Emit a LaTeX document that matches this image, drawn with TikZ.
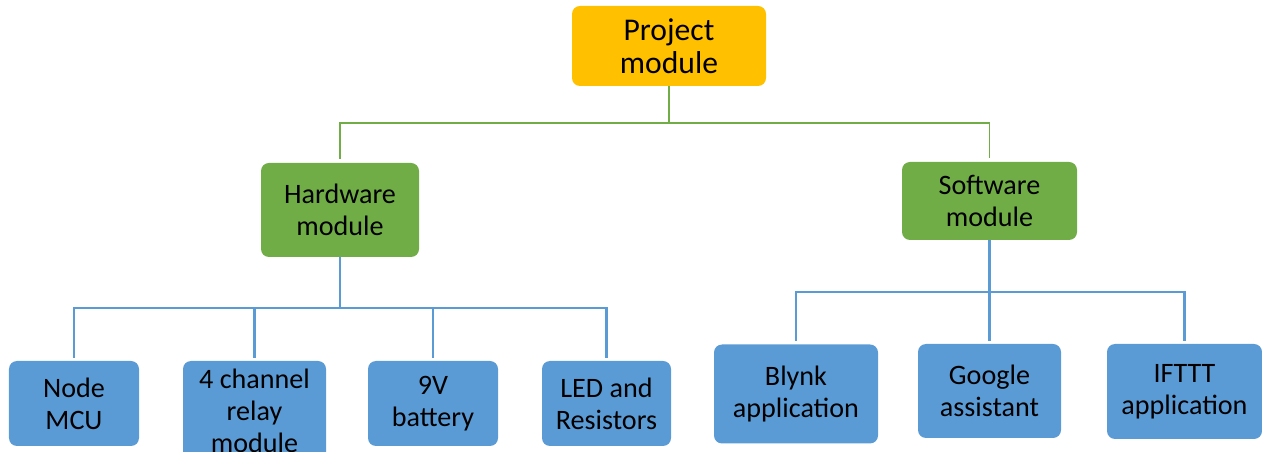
\documentclass[tikz,border=0pt]{standalone}
\usepackage{fontspec}
\setmainfont{Carlito}
\usetikzlibrary{calc, positioning}
\definecolor{gold}{HTML}{FFC000}
\definecolor{leaf}{HTML}{70AD47}
\definecolor{sky}{HTML}{5B9BD5}

\begin{document}
\begin{tikzpicture}[
    every node/.style={rectangle, rounded corners=0.16cm, align=center, inner sep=0pt, font=\fontsize{16}{18.2}\selectfont},
    topbox/.style={fill=gold, minimum width=3.88cm, minimum height=1.6cm, font=\fontsize{18}{19}\selectfont},
    midbox/.style={fill=leaf, minimum height=1.56cm},
    leafbox/.style={fill=sky, minimum height=1.7cm},
    greenline/.style={draw=leaf, line width=1.1pt, shorten >=0.07cm},
    blueline/.style={draw=sky, line width=1.3pt, shorten >=0.06cm}
]
\useasboundingbox (0,0) rectangle (25.24,9.04);
\clip (0,0) rectangle (25.24,9.04);

\node[topbox] (proj) at (13.38,8.12) {Project\\module};
\node[midbox, minimum width=3.16cm, minimum height=1.88cm] (hw) at (6.8,4.84) {Hardware\\module};
\node[midbox, minimum width=3.5cm] (sw) at (19.79,5.02) {Software\\module};

\node[leafbox, minimum width=2.6cm] (mcu) at (1.48,0.97) {Node\\MCU};
\node[leafbox, minimum width=2.86cm, minimum height=1.98cm] (relay) at (5.09,0.83) {4 channel\\relay\\module};
\node[leafbox, minimum width=2.6cm] (bat) at (8.66,0.97) {9V\\battery};
\node[leafbox, minimum width=2.58cm] (led) at (12.13,0.97) {LED and\\Resistors};

\node[leafbox, minimum width=3.28cm, minimum height=1.98cm] (blynk) at (15.92,1.16) {Blynk\\application};
\node[leafbox, minimum width=2.86cm, minimum height=1.88cm] (google) at (19.79,1.22) {Google\\assistant};
\node[leafbox, minimum width=3.1cm, minimum height=1.9cm] (ifttt) at (23.69,1.21) {IFTTT\\application};

\coordinate (pbus) at (13.38,6.58);
\coordinate (hbus) at (6.8,2.88);
\coordinate (sbus) at (19.79,3.2);

\draw[greenline, shorten >=0pt] (proj.south) -- (pbus);
\draw[greenline] (pbus) -| (hw.north);
\draw[greenline] (pbus) -| (sw.north);

\draw[blueline, shorten >=0pt] (hw.south) -- (hbus);
\draw[blueline] (hbus) -| (mcu.north);
\draw[blueline] (hbus) -| (relay.north);
\draw[blueline] (hbus) -| (bat.north);
\draw[blueline] (hbus) -| (led.north);

\draw[blueline, shorten >=0pt] (sw.south) -- (sbus);
\draw[blueline] (sbus) -| (blynk.north);
\draw[blueline] (sbus) -- (google.north);
\draw[blueline] (sbus) -| (ifttt.north);

\end{tikzpicture}
\end{document}
